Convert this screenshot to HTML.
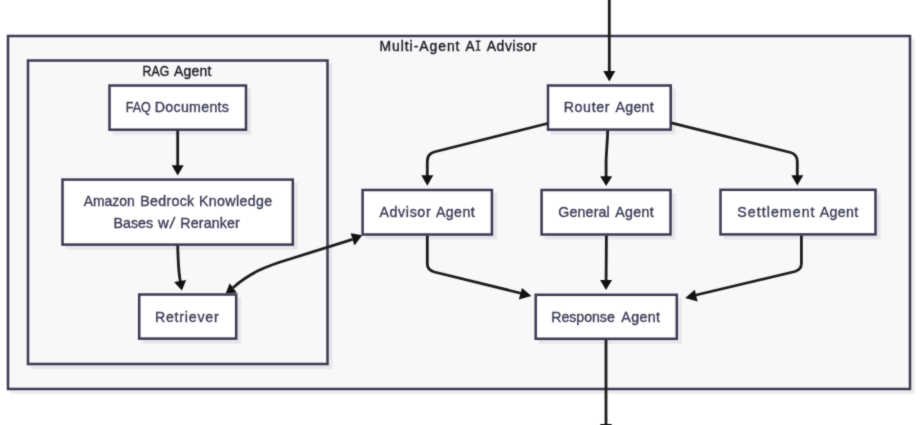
<!DOCTYPE html>
<html>
<head>
<meta charset="utf-8">
<style>
html,body{margin:0;padding:0;background:#ffffff;width:920px;height:425px;overflow:hidden;}
svg{display:block;will-change:transform;}
text{font-family:"Liberation Sans",sans-serif;}
.t{font-size:14.2px;fill:#3c3c58;stroke:#3c3c58;stroke-width:0.35px;}
.ct{font-size:13.9px;fill:#222226;stroke:#222226;stroke-width:0.4px;}
.cl{fill:#f8f8fa;stroke:#3a3a52;stroke-width:2.5;}
.nd{fill:#ffffff;stroke:#3a3a52;stroke-width:2.5;}
.sh{fill:#000000;fill-opacity:0.065;}
.e{fill:none;stroke:#1c1c1c;stroke-width:2.8;}
.a{fill:#111111;}
</style>
</head>
<body>
<svg width="920" height="425" viewBox="0 0 920 425">
<defs><filter id="soft" x="0" y="0" width="920" height="425" filterUnits="userSpaceOnUse" color-interpolation-filters="sRGB"><feConvolveMatrix order="3" kernelMatrix="1 2 1 2 16 2 1 2 1" divisor="28" edgeMode="duplicate"/></filter></defs>
<g filter="url(#soft)">
<g><rect class="sh" x="11.00" y="39.00" width="904.00" height="355.00"/></g>
<rect class="cl" x="8" y="36" width="902" height="353"/>
<g><rect class="sh" x="31.00" y="63.50" width="301.50" height="305.50"/></g>
<rect class="cl" x="28" y="60.5" width="299.5" height="303.5"/>
<g><rect class="sh" x="112.50" y="88.50" width="138.50" height="46.20"/><rect class="sh" x="65.50" y="182.60" width="232.30" height="67.00"/><rect class="sh" x="142.20" y="297.50" width="99.00" height="46.10"/><rect class="sh" x="551.00" y="88.50" width="124.70" height="46.10"/><rect class="sh" x="365.60" y="193.00" width="131.30" height="46.50"/><rect class="sh" x="544.60" y="193.00" width="130.90" height="46.50"/><rect class="sh" x="723.50" y="192.80" width="157.00" height="46.60"/><rect class="sh" x="538.70" y="297.80" width="143.10" height="46.00"/></g>
<rect class="nd" x="109.5" y="85.5" width="136.5" height="44.2"/>
<rect class="nd" x="62.5" y="179.6" width="230.3" height="65"/>
<rect class="nd" x="139.2" y="294.5" width="97" height="44.1"/>
<rect class="nd" x="548" y="85.5" width="122.7" height="44.1"/>
<rect class="nd" x="362.6" y="190" width="129.3" height="44.5"/>
<rect class="nd" x="541.6" y="190" width="128.9" height="44.5"/>
<rect class="nd" x="720.5" y="189.8" width="155" height="44.6"/>
<rect class="nd" x="535.7" y="294.8" width="141.1" height="44"/>
<g transform="translate(380.50 0) scale(1.0 1)"><text class="ct" x="-1.00" y="50.7" textLength="79.97" lengthAdjust="spacing">Multi-Agent</text></g>
<g transform="translate(465.60 0) scale(1.0 1)"><text class="ct" x="0.00" y="50.7" textLength="9.06" lengthAdjust="spacingAndGlyphs">A</text></g>
<g transform="translate(486.70 0) scale(1.0 1)"><text class="ct" x="0.00" y="50.7" textLength="50.03" lengthAdjust="spacing">Advisor</text></g>
<g transform="translate(143.50 0) scale(1.0 1)"><text class="ct" x="-0.88" y="76.0" textLength="26.56" lengthAdjust="spacingAndGlyphs">RAG</text></g>
<g transform="translate(174.00 0) scale(1.0 1)"><text class="ct" x="0.00" y="76.0" textLength="37.41" lengthAdjust="spacing">Agent</text></g>
<g transform="translate(126.55 0) scale(1.0 1)"><text class="t" x="-0.88" y="111.8" textLength="25.08" lengthAdjust="spacingAndGlyphs">FAQ</text></g>
<g transform="translate(155.80 0) scale(1.0 1)"><text class="t" x="-1.00" y="111.8" textLength="74.17" lengthAdjust="spacing">Documents</text></g>
<g transform="translate(83.70 0) scale(1.0 1)"><text class="t" x="0.00" y="206.1" textLength="51.15" lengthAdjust="spacingAndGlyphs">Amazon</text></g>
<g transform="translate(141.30 0) scale(1.0 1)"><text class="t" x="-1.00" y="206.1" textLength="53.85" lengthAdjust="spacing">Bedrock</text></g>
<g transform="translate(200.00 0) scale(1.0 1)"><text class="t" x="-1.00" y="206.1" textLength="73.12" lengthAdjust="spacing">Knowledge</text></g>
<g transform="translate(114.40 0) scale(1.0 1)"><text class="t" x="-1.00" y="227.9" textLength="39.74" lengthAdjust="spacing">Bases</text></g>
<g transform="translate(158.10 0) scale(1.0 1)"><text class="t" x="0.00" y="227.9" textLength="10.76" lengthAdjust="spacingAndGlyphs">w</text></g>
<g transform="translate(181.30 0) scale(1.0 1)"><text class="t" x="-1.00" y="227.9" textLength="59.56" lengthAdjust="spacing">Reranker</text></g>
<g transform="translate(155.90 0) scale(1.0 1)"><text class="t" x="-1.00" y="322.0" textLength="63.86" lengthAdjust="spacing">Retriever</text></g>
<g transform="translate(564.70 0) scale(1.0 1)"><text class="t" x="-1.00" y="111.6" textLength="45.79" lengthAdjust="spacing">Router</text></g>
<g transform="translate(615.40 0) scale(1.0 1)"><text class="t" x="0.00" y="111.6" textLength="38.38" lengthAdjust="spacing">Agent</text></g>
<g transform="translate(379.50 0) scale(1.0 1)"><text class="t" x="0.00" y="217.4" textLength="51.11" lengthAdjust="spacing">Advisor</text></g>
<g transform="translate(435.90 0) scale(1.0 1)"><text class="t" x="0.00" y="217.4" textLength="38.78" lengthAdjust="spacing">Agent</text></g>
<g transform="translate(558.20 0) scale(1.0 1)"><text class="t" x="0.00" y="217.4" textLength="51.58" lengthAdjust="spacing">General</text></g>
<g transform="translate(615.30 0) scale(1.0 1)"><text class="t" x="0.00" y="217.4" textLength="38.48" lengthAdjust="spacing">Agent</text></g>
<g transform="translate(737.30 0) scale(1.0 1)"><text class="t" x="0.00" y="217.4" textLength="77.23" lengthAdjust="spacing">Settlement</text></g>
<g transform="translate(819.80 0) scale(1.0 1)"><text class="t" x="0.00" y="217.4" textLength="38.38" lengthAdjust="spacing">Agent</text></g>
<g transform="translate(552.20 0) scale(1.0 1)"><text class="t" x="-1.00" y="322.3" textLength="63.59" lengthAdjust="spacingAndGlyphs">Response</text></g>
<g transform="translate(621.30 0) scale(1.0 1)"><text class="t" x="0.00" y="322.3" textLength="38.68" lengthAdjust="spacing">Agent</text></g>
<path d="M475.7 40.6 H480.5 V42.0 H478.8 V49.4 H480.5 V50.8 H475.7 V49.4 H477.4 V42.0 H475.7 Z" fill="#222226"/>
<path d="M169.9 228.4 L174.9 216.8" stroke="#3c3c58" stroke-width="1.5" fill="none"/>
<path class="e" d="M609.3 0 L609.3 72"/>
<polygon class="a" points="603.3,71 615.3,71 609.3,81.5"/>
<path class="e" d="M177.7 130.5 L177.7 166"/>
<polygon class="a" points="171.7,165.3 183.7,165.3 177.7,175.5"/>
<path class="e" d="M177.7 245.5 C178.2 262 178.2 272 180.5 282"/>
<polygon class="a" points="174.1,282 186.1,280 181.9,290.5"/>
<path class="e" d="M233 287.7 C250 272.5 268 265.5 290 259 L352.5 239.3"/>
<polygon class="a" points="225.8,293.3 229.7,283.2 236.8,292.8"/>
<polygon class="a" points="362.3,235.3 350.7,233.2 354.4,245.4"/>
<path class="e" d="M547.4 123.5 L434 152 Q427.3 154 427.3 161.5 L427.3 176"/>
<polygon class="a" points="421.3,175.3 433.3,175.3 427.3,185.8"/>
<path class="e" d="M607.7 130.5 C607.4 145 606.1 152 606.1 163 L606.1 177"/>
<polygon class="a" points="600.2,176.2 612.2,176.2 606.1,186"/>
<path class="e" d="M671.2 122.9 L790.5 152.5 Q797.3 154.5 797.3 161.5 L797.3 176"/>
<polygon class="a" points="791.3,175.3 803.3,175.3 797.3,185.5"/>
<path class="e" d="M427.3 235.5 L427.3 264 Q427.3 270 434.4 272 L522 293.5"/>
<polygon class="a" points="531.4,296.1 518.8,299.5 522.0,287.9"/>
<path class="e" d="M606.4 235.5 L606.1 281"/>
<polygon class="a" points="600.1,280 612.1,280 606,290"/>
<path class="e" d="M801.4 235.5 L801.4 263.5 Q801.4 269.5 795 271.5 L694 295.5"/>
<polygon class="a" points="685.2,298 694.8,289.7 697.6,301.5"/>
<path class="e" d="M606 340 L606 425"/>
<polygon class="a" points="600,424 612,424 606,434"/>
</g>
</svg>
</body>
</html>
